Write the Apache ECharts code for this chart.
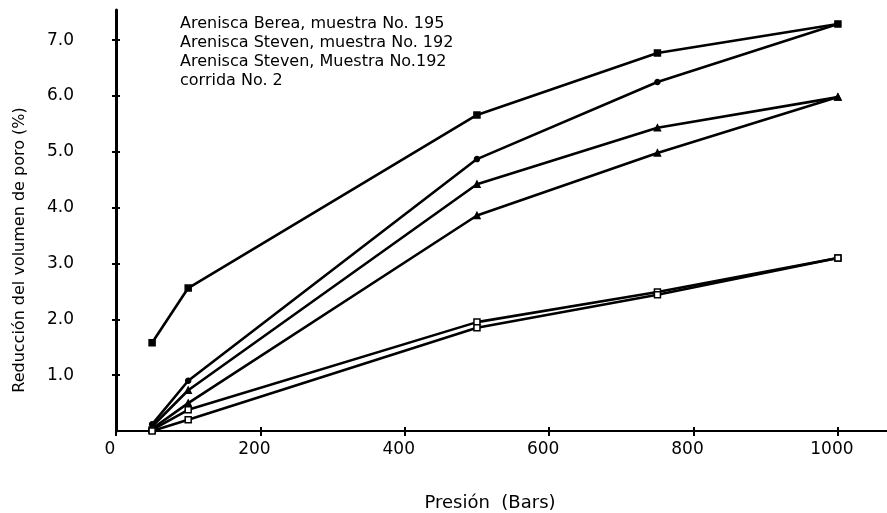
<!DOCTYPE html>
<html>
<head>
<meta charset="utf-8">
<script src="https://cdn.jsdelivr.net/npm/echarts@6/dist/echarts.min.js"></script>
<style>
  html, body { margin: 0; padding: 0; background: #fff; }
  #chart { width: 887px; height: 513px; }
</style>
</head>
<body>
<div id="chart"></div>
<script>
// Pressure steps (bars)
var pressures = [50, 100, 500, 750, 1000];

// Pore volume reduction (%) for each loading / unloading path
var bereaDescarga   = [1.58, 2.56, 5.66, 6.77, 7.29];
var bereaCarga      = [0.12, 0.90, 4.87, 6.25, 7.29];
var steven1Descarga = [0.08, 0.73, 4.42, 5.43, 5.98];
var steven1Carga    = [0.04, 0.50, 3.86, 4.98, 5.98];
var steven2Descarga = [0.02, 0.38, 1.95, 2.49, 3.10];
var steven2Carga    = [0.00, 0.20, 1.85, 2.44, 3.10];

var xTicks = [0, 200, 400, 600, 800, 1000];
var yTicks = [1, 2, 3, 4, 5, 6, 7];

var legendLines = [
  'Arenisca Berea, muestra No. 195',
  'Arenisca Steven, muestra No. 192',
  'Arenisca Steven, Muestra No.192',
  'corrida No. 2'
];

function pairs(vals) {
  return pressures.map(function (p, i) { return [p, vals[i]]; });
}

var FONT = '"DejaVu Sans", sans-serif';
var INK = '#000';

function line(name, vals, symbol, size, fill) {
  return {
    name: name,
    type: 'line',
    data: pairs(vals),
    symbol: symbol,
    symbolSize: size,
    showSymbol: true,
    lineStyle: { color: INK, width: 2.6 },
    itemStyle: { color: fill, borderColor: INK, borderWidth: 1.5 },
    z: 3
  };
}

var chart = echarts.init(document.getElementById('chart'), null, { renderer: 'canvas' });

var xBase = {
  type: 'value', min: 0, max: 1068, gridIndex: 0,
  splitLine: { show: false }
};
var yBase = {
  type: 'value', min: 0, max: 7.54, gridIndex: 0,
  splitLine: { show: false }
};

chart.setOption({
  backgroundColor: '#fff',
  animation: false,
  grid: { left: 116, top: 10, width: 771, height: 421, containLabel: false },
  xAxis: [
    Object.assign({}, xBase, {
      axisLine: { show: true, onZero: false, lineStyle: { color: INK, width: 2 } },
      axisTick: { show: true, length: 5, customValues: xTicks, lineStyle: { color: INK, width: 2 } },
      axisLabel: {
        show: true, customValues: xTicks, margin: 10,
        color: INK, fontFamily: FONT, fontSize: 17, padding: [0, 12, 0, 0],
        formatter: function (v) { return String(v); }
      }
    }),
    Object.assign({}, xBase, {
      position: 'bottom',
      axisLine: { show: false },
      axisTick: { show: true, inside: true, length: 4, customValues: xTicks, lineStyle: { color: INK, width: 2 } },
      axisLabel: { show: false }
    })
  ],
  yAxis: [
    Object.assign({}, yBase, {
      axisLine: { show: true, onZero: false, lineStyle: { color: INK, width: 3 } },
      axisTick: { show: true, length: 4, customValues: yTicks, lineStyle: { color: INK, width: 2 } },
      axisLabel: {
        show: true, customValues: yTicks, margin: 42,
        color: INK, fontFamily: FONT, fontSize: 17,
        formatter: function (v) { return v.toFixed(1); }
      }
    }),
    Object.assign({}, yBase, {
      position: 'left',
      axisLine: { show: false },
      axisTick: { show: true, inside: true, length: 4, customValues: yTicks, lineStyle: { color: INK, width: 2 } },
      axisLabel: { show: false }
    })
  ],
  series: [
    line('Berea descarga', bereaDescarga, 'rect', 6, INK),
    line('Berea carga', bereaCarga, 'circle', 5, INK),
    line('Steven descarga', steven1Descarga, 'triangle', 6, INK),
    line('Steven carga', steven1Carga, 'triangle', 6, INK),
    line('Steven corrida 2 descarga', steven2Descarga, 'rect', 6, '#fff'),
    line('Steven corrida 2 carga', steven2Carga, 'rect', 6, '#fff')
  ],
  graphic: [
    {
      type: 'text', x: 180, y: 14,
      style: {
        text: legendLines.join('\n'),
        font: '16px ' + FONT, fill: INK,
        lineHeight: 19, textAlign: 'left', textVerticalAlign: 'top'
      }
    },
    {
      type: 'text', x: 20, y: 250, rotation: Math.PI / 2,
      style: {
        text: 'Reducción del volumen de poro (%)',
        font: '16px ' + FONT, fill: INK,
        textAlign: 'center', textVerticalAlign: 'middle'
      }
    },
    {
      type: 'text', x: 490, y: 503,
      style: {
        text: 'Presión  (Bars)',
        font: '18px ' + FONT, fill: INK,
        textAlign: 'center', textVerticalAlign: 'middle'
      }
    }
  ]
});
</script>
</body>
</html>
